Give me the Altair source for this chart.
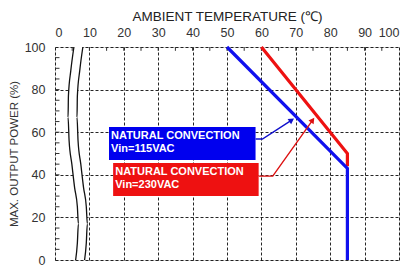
import altair as alt
import pandas as pd

# Derating curves
blue_t = [50, 85, 85]
blue_p = [100, 43, 0]
red_t = [60, 85, 85]
red_p = [100, 50, 44]

# Axis break (wavy lines) - left curve x positions at y levels
brk_y = [100, 89, 77, 67, 56, 45, 34, 25, 17, 8, 0]
brk_xl = [5.5, 4.6, 3.9, 3.8, 4.1, 4.9, 5.7, 6.5, 6.8, 6.5, 6.0]
brk_gap = 2.6

# Annotation boxes
labels = ["NATURAL CONVECTION", "Vin=115VAC", "NATURAL CONVECTION", "Vin=230VAC"]
box_x = [15.7, 16.9]
box_x2 = [58.3, 59.2]
box_y = [62.4, 45.5]
box_y2 = [47.0, 30.0]
box_col = ["#0000EE", "#EE1111"]

# Arrows
blue_arrow_t = [58.3, 60.3, 68.8]
blue_arrow_p = [56.8, 56.8, 65.7]
red_arrow_t = [59.2, 63.3, 74.9]
red_arrow_p = [39.4, 39.4, 65.7]

x_ticks = list(range(0, 101, 10))
y_ticks = list(range(0, 101, 20))

FONT = "Liberation Sans"
xs = alt.Scale(domain=[0, 100], nice=False, zero=False)
ys = alt.Scale(domain=[0, 100], nice=False, zero=False)

ax_x = alt.Axis(
    orient="top", values=x_ticks, title="AMBIENT TEMPERATURE (℃)",
    grid=True, gridDash=[3, 2], gridColor="#000", gridWidth=1, gridOpacity=0.85,
    ticks=False, domain=False, labelFont=FONT, labelFontSize=12.5, labelColor="#333",
    labelPadding=8, titleFont=FONT, titleFontSize=13.5, titleFontWeight="normal",
    titleColor="#222", titlePadding=3)
ax_y = alt.Axis(
    values=y_ticks, title="MAX. OUTPUT POWER (%)",
    grid=True, gridDash=[3, 2], gridColor="#000", gridWidth=1, gridOpacity=0.85,
    ticks=False, domain=False, labelFont=FONT, labelFontSize=12.5, labelColor="#333",
    labelPadding=10, titleFont=FONT, titleFontSize=11.5, titleFontWeight="normal",
    titleColor="#333", titlePadding=5)

X = lambda f: alt.X(f, type="quantitative", scale=xs, axis=ax_x)
Y = lambda f: alt.Y(f, type="quantitative", scale=ys, axis=ax_y)

# minor ticks (inward)
top_ticks = pd.DataFrame({"t": list(range(5, 100, 5))})
top_ticks["p"] = 100
top_ticks["p2"] = 98.2
tt = alt.Chart(top_ticks).mark_rule(color="#333", strokeWidth=1).encode(x=X("t"), y=Y("p"), y2="p2")
left_ticks = pd.DataFrame({"p": list(range(5, 100, 5))})
left_ticks["t"] = 0
left_ticks["t2"] = 1.3
lt = alt.Chart(left_ticks).mark_rule(color="#333", strokeWidth=1).encode(y=Y("p"), x=X("t"), x2="t2")

# break
brk = pd.DataFrame({"p": brk_y, "xl": brk_xl})
brk["xr"] = brk["xl"] + brk_gap
brk["o"] = range(len(brk))
brk_fill = alt.Chart(brk).mark_area(color="white", orient="horizontal", opacity=1,
                                    interpolate="monotone").encode(
    y=Y("p"), x=X("xl"), x2="xr")
brk_l = alt.Chart(brk).mark_line(color="#111", strokeWidth=1.3, interpolate="monotone").encode(
    x=X("xl"), y=Y("p"), order="o:Q")
brk_r = alt.Chart(brk).mark_line(color="#111", strokeWidth=1.3, interpolate="monotone").encode(
    x=X("xr"), y=Y("p"), order="o:Q")

# curves
def curve(t, p, col):
    df = pd.DataFrame({"t": t, "p": p, "o": range(len(t))})
    return alt.Chart(df).mark_line(color=col, strokeWidth=3.2).encode(x=X("t"), y=Y("p"), order="o:Q")

red = curve(red_t, red_p, "#EE1111")
blue = curve(blue_t, blue_p, "#1010EE")

# boxes
boxes_df = pd.DataFrame({"x": box_x, "x2": box_x2, "y": box_y, "y2": box_y2, "c": box_col})
boxes = alt.Chart(boxes_df).mark_rect().encode(
    x=X("x"), x2="x2", y=Y("y"), y2="y2", color=alt.Color("c:N", scale=None))

txt_df = pd.DataFrame({
    "label": labels,
    "t": [box_x[0] + 0.6, box_x[0] + 0.6, box_x[1] + 0.6, box_x[1] + 0.6],
    "p": [box_y[0] - 4.2, box_y[0] - 10.3, box_y[1] - 4.2, box_y[1] - 10.3],
})
txt = alt.Chart(txt_df).mark_text(align="left", baseline="middle", color="white",
                                  font=FONT, fontSize=11, fontWeight="bold").encode(
    x=X("t"), y=Y("p"), text="label:N")

# arrows
def arrow(t, p, col, ang):
    df = pd.DataFrame({"t": t, "p": p, "o": range(len(t))})
    ln = alt.Chart(df).mark_line(color=col, strokeWidth=1.4).encode(x=X("t"), y=Y("p"), order="o:Q")
    head = alt.Chart(df.iloc[[-1]]).mark_point(shape="triangle-up", filled=True, color=col,
                                               size=40, angle=ang, opacity=1).encode(x=X("t"), y=Y("p"))
    return ln + head

ab = arrow(blue_arrow_t, blue_arrow_p, "#1010CC", 57)
ar = arrow(red_arrow_t, red_arrow_p, "#DD1111", 36)

chart = alt.layer(brk_fill, brk_l, brk_r, tt, lt, red, blue, boxes, txt, ab, ar).properties(
    width=344, height=213,
    autosize=alt.AutoSizeParams(type="none"),
    padding={"left": 47, "top": 39, "right": 3, "bottom": 6},
).configure_view(stroke="#222", strokeWidth=1.2).configure(background="white")

chart.save("out.html", embed_options={"renderer": "svg", "actions": False})
